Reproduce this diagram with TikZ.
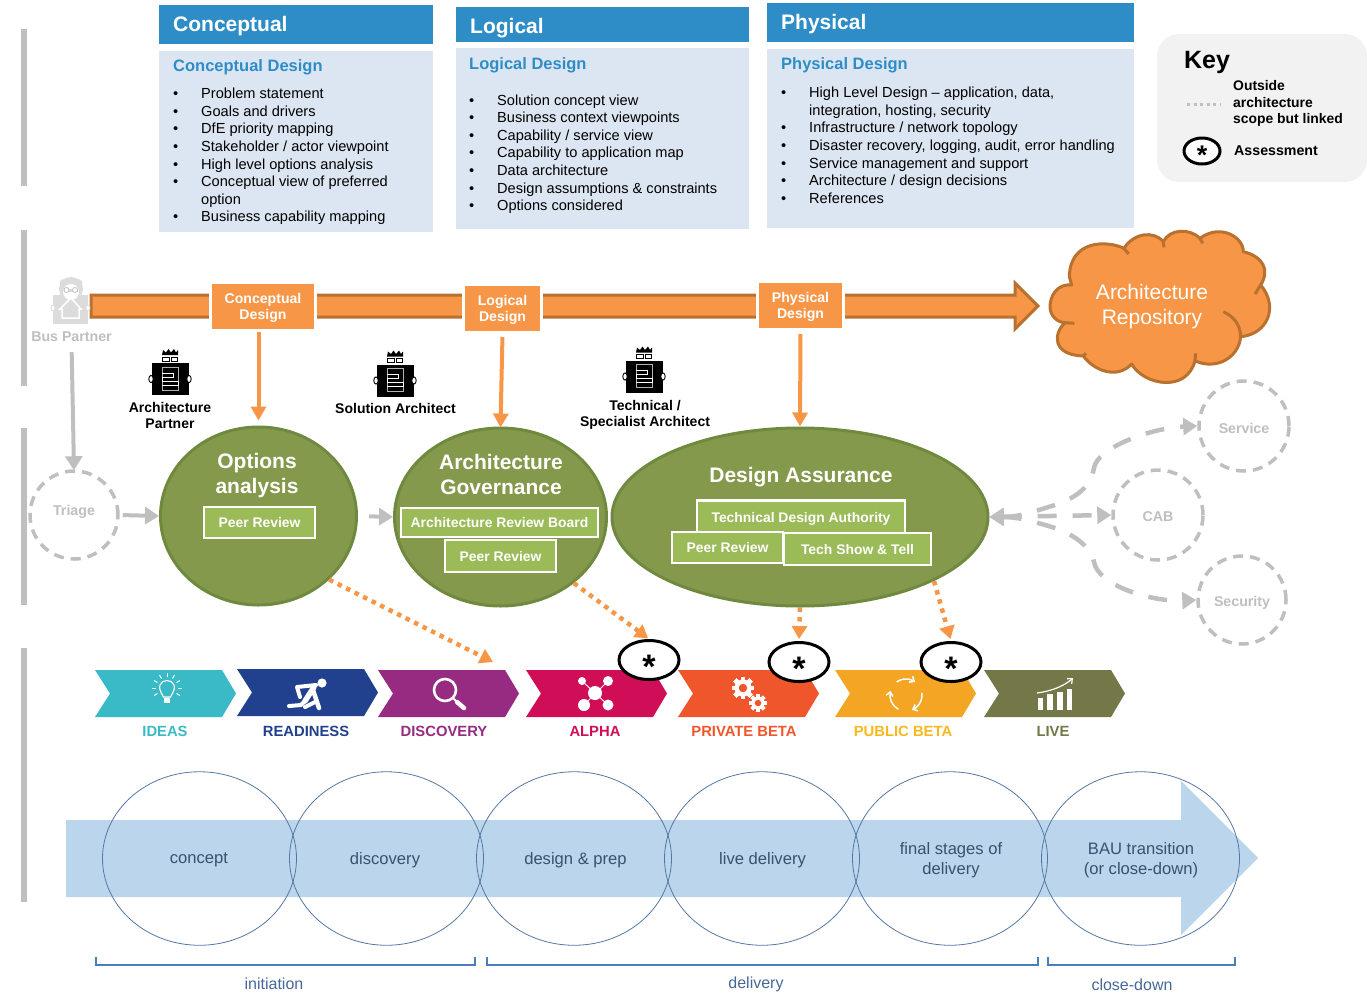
\documentclass[tikz,border=0pt]{standalone}
\usepackage{fontspec}
\setmainfont{Liberation Sans}
\usetikzlibrary{shapes.geometric,arrows.meta,calc}
\definecolor{hdr}{HTML}{2E8DC7}
\definecolor{bodyb}{HTML}{DCE6F2}
\definecolor{org}{HTML}{F79646}
\definecolor{orgd}{HTML}{B8712F}
\definecolor{grn}{HTML}{84994C}
\definecolor{grnd}{HTML}{6F8A3E}
\definecolor{grnl}{HTML}{9BBB59}
\definecolor{gry}{HTML}{BFBFBF}
\definecolor{barg}{HTML}{BFBFBF}
\definecolor{keyb}{HTML}{F2F2F2}
\definecolor{cIdeas}{HTML}{3ABAC7}
\definecolor{cRead}{HTML}{21418E}
\definecolor{cDisc}{HTML}{972B82}
\definecolor{cAlpha}{HTML}{D00D57}
\definecolor{cPriv}{HTML}{EF562B}
\definecolor{cPub}{HTML}{F4A523}
\definecolor{cPubT}{HTML}{FBB81C}
\definecolor{cLive}{HTML}{747747}
\definecolor{blu}{HTML}{BBD5EC}
\definecolor{bluel}{HTML}{5577A5}
\definecolor{brk}{HTML}{4A7EBB}
\definecolor{brkt}{HTML}{44689A}
\definecolor{txtg}{HTML}{3A506F}
\newcommand{\fs}[1]{\fontsize{#1}{#1}\selectfont}
\newcommand{\bl}[1]{\makebox[28pt][l]{•}#1\\}
\newcommand{\bc}[1]{\hspace*{28pt}#1\\}
\newcommand{\chev}[6]{% name, left x, top y, colour, text colour, label x
  \fill[#4] (#2,#3) -- ++(127,0) -- ++(14,23.5) -- ++(-14,23.5) -- ++(-127,0) -- ++(15,-23.5) -- cycle;
  \coordinate (#1) at ({#2+71},{#3+23.5});
  \node[chevlabel,text=#5] (#1t) at (#6,731) {\MakeUppercase{#1}};
}
\newcommand{\gearicon}[4]{%
  \fill[white] (#1,#2) circle[radius=#3];
  \foreach \a in {0,45,...,315}{\fill[white,rotate around={\a:(#1,#2)}] ({#1-#3*0.28},{#2-#3*1.35}) rectangle ({#1+#3*0.28},{#2+#3*1.35});}
  \fill[#4] (#1,#2) circle[radius=#3*0.5];
}
\tikzset{
  hdrbox/.style={fill=hdr,draw=none},
  bodybox/.style={fill=bodyb,draw=none},
  hdrtxt/.style={anchor=west,inner sep=0,text=white,font=\bfseries\fs{21}},
  subtxt/.style={anchor=west,inner sep=0,text=hdr,font=\bfseries\fs{16.5}},
  listtxt/.style={anchor=north west,inner sep=0,align=left,font=\fontsize{14.6}{17.57}\selectfont},
  stage/.style={rectangle,fill=org,draw=white,line width=3pt,inner sep=0,text=white,align=center,font=\bfseries\fontsize{14.1}{16}\selectfont},
  proc/.style={ellipse,fill=grn,draw=grnd,line width=3pt,inner sep=0},
  proctxt/.style={text=white,align=center,inner sep=0,font=\bfseries\fontsize{21}{25}\selectfont},
  sub/.style={rectangle,fill=grnl,draw=white,line width=2.2pt,inner sep=0,text=white,text height=10pt,text depth=0pt,font=\bfseries\fs{13.9}},
  role/.style={inner sep=0,align=center,text=black,font=\bfseries\fontsize{14}{16}\selectfont},
  ext/.style={circle,draw=gry,line width=3.5pt,dash pattern=on 10pt off 7pt,fill=white,inner sep=0,text=gry,font=\bfseries\fs{14.2}},
  assess/.style={ellipse,draw=black,fill=white,line width=3pt,inner sep=0},
  star/.style={inner sep=0,font=\bfseries\fs{34}},
  orgarrow/.style={draw=org,line width=4pt,-{Triangle[width=15pt,length=14pt]}},
  orgdot/.style={draw=org,line width=4.5pt,dash pattern=on 4.5pt off 5pt,-{Triangle[width=15pt,length=13pt]}},
  gryarrow/.style={draw=gry,line width=4pt,-{Triangle[width=17pt,length=14pt]}},
  grydash/.style={draw=gry,line width=4.5pt,dash pattern=on 19pt off 16pt,{Triangle[width=17pt,length=14pt]}-{Triangle[width=17pt,length=14pt]}},
  chevlabel/.style={inner sep=0,font=\bfseries\fs{14.8}},
  lifecircle/.style={ellipse,draw=bluel,line width=0.8pt,inner sep=0,minimum height=173.5pt},
  lifetxt/.style={inner sep=0,align=center,text=txtg,font=\fontsize{16.6}{20}\selectfont},
  brace/.style={draw=brk,line width=1.6pt},
  bracetxt/.style={inner sep=0,text=brkt,font=\fs{16}},
  person/.pic={
    \fill[black] (-18.5,-16) rectangle (18.5,16);
    \foreach \s in {-1,1}{\draw[black,fill=white,line width=0.9pt] (\s*19,0) ellipse[x radius=2.2,y radius=3.6];}
    \draw[gray!60,line width=1pt] (-8,-12) rectangle (8,11);
    \draw[white,line width=1pt] (-8,-6) -- (3,-6) -- (3,-2) -- (-8,-2) -- (-8,2) -- (8,2) -- (8,6) -- (-8,6);
    \draw[black,line width=1pt,fill=white] (-7.5,-22) rectangle (-1,-18);
    \draw[black,line width=1pt,fill=white] (1,-22) rectangle (7.5,-18);
    \fill[black] (-8,-24) -- (-7,-29) -- (-4,-26.5) -- (-1.5,-30) -- (1,-26.5) -- (4,-30) -- (6,-26.5) -- (8,-29) -- (8,-24) -- cycle;
  },
}
\begin{document}
\begin{tikzpicture}[x=1pt,y=-1pt]
\useasboundingbox (0,0) rectangle (1367,1005);
% left bars
\foreach \a/\b in {29/186,230/386,428/605,648/902}{\fill[barg] (21,\a) rectangle (27,\b);}
% top boxes
\fill[hdrbox] (159,5) rectangle (433,44);
\fill[bodybox] (159,51) rectangle (433,232);
\fill[hdrbox] (456,7) rectangle (749,42);
\fill[bodybox] (456,48) rectangle (749,229);
\fill[hdrbox] (767,3) rectangle (1134,42);
\fill[bodybox] (767,49) rectangle (1134,228);
\node[hdrtxt] (h1) at (173,26) {Conceptual};
\node[hdrtxt] (h2) at (470,28) {Logical};
\node[hdrtxt] (h3) at (781,24) {Physical};
\node[subtxt] (s1) at (173,67) {Conceptual Design};
\node[subtxt] (s2) at (469,65) {Logical Design};
\node[subtxt] (s3) at (781,65) {Physical Design};
\node[listtxt] (l1) at (173,88) {\bl{Problem statement}\bl{Goals and drivers}\bl{DfE priority mapping}\bl{Stakeholder / actor viewpoint}\bl{High level options analysis}\bl{Conceptual view of preferred}\bc{option}\bl{Business capability mapping}};
\node[listtxt] (l2) at (469,94.5) {\bl{Solution concept view}\bl{Business context viewpoints}\bl{Capability / service view}\bl{Capability to application map}\bl{Data architecture}\bl{Design assumptions \& constraints}\bl{Options considered}};
\node[listtxt] (l3) at (781,87) {\bl{High Level Design – application, data,}\bc{integration, hosting, security}\bl{Infrastructure / network topology}\bl{Disaster recovery, logging, audit, error handling}\bl{Service management and support}\bl{Architecture / design decisions}\bl{References}};
% key
\fill[keyb,rounded corners=22pt] (1157,34) rectangle (1367,182);
\node[inner sep=0,font=\bfseries\fs{25}] (keyt) at (1207,62) {Key};
\draw[gry,line width=3pt,dash pattern=on 3pt off 3.5pt] (1187,104) -- (1221,104);
\node[inner sep=0,anchor=north west,align=left,font=\bfseries\fontsize{13.9}{16.3}\selectfont] (keyo) at (1233,80.5) {Outside\\architecture\\scope but linked};
\node[assess,minimum width=36pt,minimum height=26pt] (keya) at (1202,151) {};
\node[star,font=\bfseries\fs{27}] (keys) at (1202,155) {*};
\node[inner sep=0,anchor=west,font=\bfseries\fs{14.2}] (keyat) at (1234,151) {Assessment};
% big orange arrow
\draw[orgd,fill=org,line width=3pt] (91,295) -- (1015,295) -- (1015,283) -- (1038,306) -- (1015,329) -- (1015,317) -- (91,317) -- cycle;
% stage boxes
\node[stage,minimum width=105pt,minimum height=48pt] (cd) at (263,306.5) {\rule{0pt}{12.5pt}Conceptual\\Design};
\node[stage,minimum width=78pt,minimum height=48pt] (ld) at (502.5,308.5) {\rule{0pt}{12.5pt}Logical\\Design};
\node[stage,minimum width=86pt,minimum height=48pt] (pd) at (800.5,305.5) {\rule{0pt}{12.5pt}Physical\\Design};
% cloud
\begin{scope}[shift={(1030,20)},x=0.33333pt,y=-0.33333pt]
\draw[orgd,fill=org,line width=3pt,line join=round]
 (125,795) .. controls (80,790) and (60,830) .. (60,860)
 .. controls (60,890) and (85,908) .. (105,908)
 .. controls (70,940) and (65,1005) .. (160,1008)
 .. controls (190,1050) and (260,1080) .. (305,1032)
 .. controls (340,1095) and (470,1120) .. (495,1022)
 .. controls (550,1050) and (625,1020) .. (632,950)
 .. controls (690,945) and (725,900) .. (718,850)
 .. controls (715,830) and (705,810) .. (692,795)
 .. controls (720,750) and (700,710) .. (640,695)
 .. controls (640,650) and (570,610) .. (510,655)
 .. controls (480,625) and (420,625) .. (400,665)
 .. controls (370,630) and (310,640) .. (282,685)
 .. controls (230,660) and (120,660) .. (118,770) -- cycle;
\draw[orgd,line width=3pt] (105,908) -- (133,910) (160,1008) -- (168,1000) (495,1022) -- (497,1000)
 (632,950) .. controls (630,910) and (610,890) .. (580,875)
 (692,795) -- (675,822) (510,655) -- (518,670) (400,665) -- (402,682) (282,685) -- (296,702);
\end{scope}
\node[inner sep=0,align=center,text=white,font=\fontsize{21}{25}\selectfont] (repo) at (1152,306.5) {Architecture\\Repository};
% bus partner icon
\fill[gry!55] (53,295) rectangle (88,324);
\fill[gry!55] (71,289) ellipse[x radius=12,y radius=12];
\fill[white] (71,292) ellipse[x radius=8,y radius=8];
\fill[gry!55] (64,289) rectangle (78,292);
\draw[gry,line width=.8pt,fill=white] (66.5,290) circle[radius=2.5] (75,290) circle[radius=2.5];
\fill[gry!55] (60,281) .. controls (65,277) and (77,277) .. (82,281) -- (82,286) .. controls (75,282) and (67,282) .. (60,286) -- cycle;
\draw[white,line width=1.5pt,fill=gry!55] (60,309) -- (71,298) -- (81,309) -- (79,309) -- (79,318) -- (62,318) -- (62,309) -- cycle;
\draw[gry!55,fill=white,line width=.8pt] (53,308) ellipse[x radius=2,y radius=3] (88,308) ellipse[x radius=2,y radius=3];
\node[inner sep=0,text=gry,font=\bfseries\fs{14.2}] (bp) at (71.5,337) {Bus Partner};
% roles
\pic at (170,379) {person};
\pic at (395,380.5) {person};
\pic at (644,376.5) {person};
\node[role] (r1) at (170,415) {Architecture\\Partner};
\node[role] (r2) at (395.5,408) {Solution Architect};
\node[role] (r3) at (645,414.5) {Technical /\\Specialist Architect};
% process ellipses
\node[ext,minimum size=88pt] (triage) at (74,515) {\raisebox{0pt}[0pt][0pt]{Triage}};
\node[proc,minimum width=196pt,minimum height=178pt] (oa) at (258.5,516) {};
\node[proc,minimum width=212pt,minimum height=178pt] (ag) at (500.5,517) {};
\node[proc,minimum width=376pt,minimum height=178pt] (da) at (800,517) {};
\node[proctxt] (oat) at (257,475.5) {Options\\analysis};
\node[proctxt] (agt) at (501,474.5) {Architecture\\Governance};
\node[proctxt] (dat) at (801,477) {Design Assurance};
\node[sub,minimum width=111pt,minimum height=31pt] (pr1) at (259.5,522.5) {Peer Review};
\node[sub,minimum width=197pt,minimum height=29pt] (arb) at (499.5,522.5) {Architecture Review Board};
\node[sub,minimum width=111pt,minimum height=32pt] (pr2) at (500.5,556) {Peer Review};
\node[sub,minimum width=208pt,minimum height=34pt] (tda) at (801,517.5) {Technical Design Authority};
\node[sub,minimum width=111pt,minimum height=31pt] (pr3) at (727.5,547.5) {Peer Review};
\node[sub,minimum width=147pt,minimum height=32pt] (tst) at (857.5,549) {Tech Show \& Tell};
% outside nodes
\node[ext,minimum size=90pt] (cab) at (1158,515) {\raisebox{-6pt}[0pt][0pt]{CAB}};
\node[ext,minimum size=90pt] (svc) at (1244,426) {\raisebox{-7pt}[0pt][0pt]{Service}};
\node[ext,minimum size=88pt] (sec) at (1242,600) {\raisebox{-6pt}[0pt][0pt]{Security}};
% connectors
\draw[orgarrow,shorten >=5pt] (cd.south -| oa.north) -- (oa.north);
\draw[orgarrow,shorten <=3pt,shorten >=-1pt] (ld.south) -- (ag.north);
\draw[orgarrow,shorten <=3pt] (pd.south) -- (da.north);
\draw[gryarrow,shorten <=10pt,shorten >=-1pt] (bp.south) -- (triage.north);
\draw[gryarrow,shorten <=3pt,shorten >=0pt] (triage.east) -- (oa.west);
\draw[gryarrow,shorten <=11pt] (oa.east) -- (ag.west);
\draw[grydash] (da.east) -- (cab.west);
\draw[grydash] (da.east) .. controls (1020,517) and (1035,511) .. (1055,505) .. controls (1072,499) and (1090,490) .. (1094,468) .. controls (1097,448) and (1150,428) .. (svc.west);
\draw[grydash] (da.east) .. controls (1020,517) and (1035,522) .. (1055,528) .. controls (1072,534) and (1090,545) .. (1094,562) .. controls (1098,585) and (1150,602) .. (sec.west);
% lifecycle chevrons
\chev{Ideas}{95}{670}{cIdeas}{cIdeas}{165}
\chev{Readiness}{237}{669}{cRead}{cRead}{306}
\chev{Discovery}{378}{670}{cDisc}{cDisc}{444}
\chev{Alpha}{526}{670}{cAlpha}{cAlpha}{595}
\chev{Private Beta}{678}{670}{cPriv}{cPriv}{744}
\chev{Public Beta}{835}{670}{cPub}{cPubT}{903}
\chev{Live}{984}{670}{cLive}{cLive}{1053}
% assessments
\node[assess,minimum width=60pt,minimum height=39pt] (a1) at (649,660) {};
\node[assess,minimum width=60pt,minimum height=39pt] (a2) at (799,662) {};
\node[assess,minimum width=60pt,minimum height=39pt] (a3) at (951,662) {};
\node[star] (a1s) at (649,667) {*};
\node[star] (a2s) at (799,669) {*};
\node[star] (a3s) at (951,669) {*};
\coordinate (dtarget) at (493,662);
\draw[orgdot] (oa.-42) -- (dtarget);
\draw[orgdot,shorten >=1pt] (ag.-42) -- (a1.north);
\draw[orgdot,shorten >=2pt] (da.south) -- (a2.north);
\coordinate (dastart) at (934,581);
\draw[orgdot,shorten >=2pt] (dastart) -- (a3.north);
% icons
\begin{scope}[white]
 % bulb
 \draw[line width=1.1pt] (163.5,697) .. controls (160,691) and (159,688) .. (160,685) .. controls (162,679) and (172,679) .. (174,685) .. controls (175,688) and (174,691) .. (170.5,697) -- cycle;
 \fill (164,698) rectangle (170,703);
 \foreach \a in {-150,-120,-90,-60,-30,0,180}{\draw[line width=1pt] ($(167,688)+(\a:11)$) -- ($(167,688)+(\a:15)$);}
 \foreach \a in {30,150}{\draw[line width=1pt] ($(167,688)+(\a:11)$) -- ($(167,688)+(\a:15)$);}
 % runner
 \fill (322,683) circle[radius=4.6];
 \draw[line width=4pt,line cap=round,line join=round] (316,685) -- (297,687) -- (300,697);
 \draw[line width=5.5pt,line cap=round,line join=round] (314,687) -- (305,701);
 \draw[line width=4pt,line cap=round,line join=round] (305,701) -- (301,705) -- (289,706);
 \draw[line width=4.5pt,line cap=round,line join=round] (313,690) -- (319,708);
 \draw[line width=4pt,line cap=round,line join=round] (305,707) -- (315,702);
 % magnifier
 \draw[line width=2.6pt] (445,690) circle[radius=11];
 \draw[line width=2pt] (453,698) -- (457,702);
 \draw[line width=4.5pt,line cap=round] (457,702) -- (464,708);
 % network
 \draw[line width=.9pt] (582,681) -- (608,705) (608,681) -- (584,705);
 \fill (595,693) circle[radius=7];
 \fill (582,681) circle[radius=4];
 \fill (608,681) circle[radius=5];
 \fill (584,705) circle[radius=6];
 \fill (608,705) circle[radius=5.5];
 % gears
 \gearicon{743}{688}{8.5}{cPriv}
 \gearicon{758}{703}{6.5}{cPriv}
 % cycle
 \draw[line width=1.5pt,-{Straight Barb[length=4pt,width=7pt]}] plot[domain=-125:-55,samples=12] ({906+16*cos(\x)},{695+16*sin(\x)});
 \draw[line width=1.5pt,-{Straight Barb[length=4pt,width=7pt]}] plot[domain=-8:68,samples=12] ({906+16*cos(\x)},{695+16*sin(\x)});
 \draw[line width=1.5pt,-{Straight Barb[length=4pt,width=7pt]}] plot[domain=118:195,samples=12] ({906+16*cos(\x)},{695+16*sin(\x)});
 % bars
 \fill (1038,698) rectangle (1043,710);
 \fill (1047,694) rectangle (1053,710);
 \fill (1057,692) rectangle (1063,710);
 \fill (1067,689) rectangle (1072,710);
 \draw[line width=1.2pt,-{Straight Barb[length=4pt,width=7pt]}] (1037,693) .. controls (1052,691) and (1064,686) .. (1073,678);
\end{scope}
% bottom band
\fill[blu] (66,820) -- (1181,820) -- (1181,781) -- (1258,858) -- (1181,935) -- (1181,897) -- (66,897) -- cycle;
\node[lifecircle,minimum width=194pt] (lc1) at (199.5,858.5) {};
\node[lifecircle,minimum width=194pt] (lc2) at (386.5,858.5) {};
\node[lifecircle,minimum width=195pt] (lc3) at (574,858.5) {};
\node[lifecircle,minimum width=195pt] (lc4) at (762,858.5) {};
\node[lifecircle,minimum width=195pt] (lc5) at (950,858.5) {};
\node[lifecircle,minimum width=198pt] (lc6) at (1140.5,858.5) {};
\node[lifetxt] (t1) at (199,860) {concept};
\node[lifetxt] (t2) at (385,860) {discovery};
\node[lifetxt] (t3) at (575.5,860) {design \& prep};
\node[lifetxt] (t4) at (762.5,860) {live delivery};
\node[lifetxt] (t5) at (951,860.5) {final stages of\\delivery};
\node[lifetxt] (t6) at (1141,860.5) {BAU transition\\(or close-down)};
\draw[brace] (96,957) -- (96,965) -- (475,965) -- (475,957);
\draw[brace] (487,957) -- (487,965) -- (1038,965) -- (1038,957);
\draw[brace] (1048,957) -- (1048,965) -- (1235,965) -- (1235,957);
\node[bracetxt] (b1) at (274,983.5) {initiation};
\node[bracetxt] (b2) at (756,984.5) {delivery};
\node[bracetxt] (b3) at (1132,984.5) {close-down};
\end{tikzpicture}
\end{document}
